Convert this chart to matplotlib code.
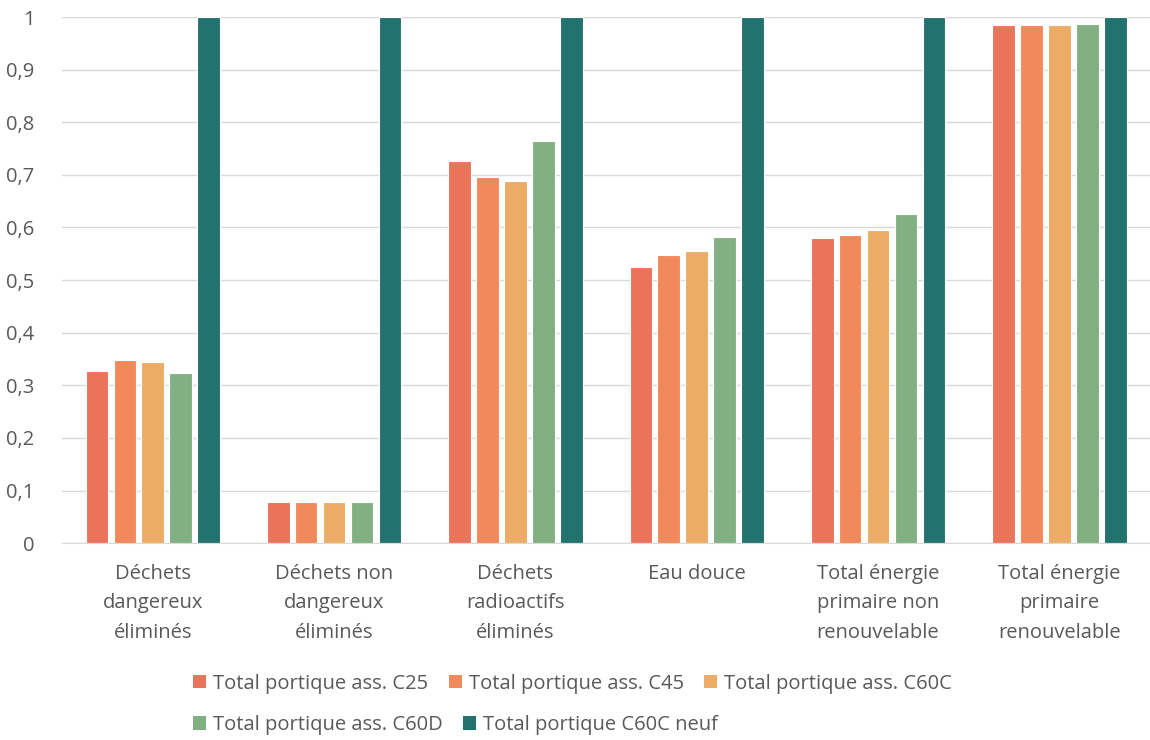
import matplotlib.pyplot as plt
import numpy as np
from matplotlib.patches import Patch

plt.rcParams['font.family'] = ['Open Sans', 'DejaVu Sans']

categories = ['Déchets\ndangereux\néliminés', 'Déchets non\ndangereux\néliminés',
              'Déchets\nradioactifs\néliminés', 'Eau douce',
              'Total énergie\nprimaire non\nrenouvelable', 'Total énergie\nprimaire\nrenouvelable']
series = ['Total portique ass. C25', 'Total portique ass. C45', 'Total portique ass. C60C',
          'Total portique ass. C60D', 'Total portique C60C neuf']
c25 = [0.327, 0.078, 0.726, 0.525, 0.580, 0.985]
c45 = [0.348, 0.078, 0.696, 0.548, 0.586, 0.985]
c60c = [0.344, 0.078, 0.688, 0.555, 0.595, 0.985]
c60d = [0.323, 0.078, 0.764, 0.582, 0.625, 0.987]
neuf = [1, 1, 1, 1, 1, 1]
colors = ['#EA7459', '#F1895B', '#ECAC66', '#82B083', '#227270']

fig = plt.figure(figsize=(11.5, 7.4), dpi=100)
ax = fig.add_axes([0.054, 0.266, 0.946, 0.711])

x = np.arange(len(categories))
pitch = 0.154
width = 0.125
for i, vals in enumerate([c25, c45, c60c, c60d, neuf]):
    ax.bar(x + (i - 2) * pitch, vals, width, color=colors[i], edgecolor='white',
           linewidth=0.8, zorder=3, label=series[i])

ax.set_xlim(-0.5, len(categories) - 0.5)
ax.set_ylim(0, 1)
ax.set_yticks(np.arange(0, 1.01, 0.1))
ax.set_yticklabels(['0'] + [('%.1f' % v).replace('.', ',') for v in np.arange(0.1, 0.95, 0.1)] + ['1'])
ax.set_xticks(x)
ax.set_xticklabels(categories, linespacing=1.62)
ax.tick_params(axis='both', length=0, labelsize=14.5, colors='#595959', pad=15)
ax.tick_params(axis='y', pad=20)
ax.yaxis.grid(True, color='#D9D9D9', linewidth=1, zorder=0)
for s in ['top', 'right', 'left']:
    ax.spines[s].set_visible(False)
ax.spines['bottom'].set_color('#D9D9D9')
ax.spines['bottom'].set_zorder(4)

h = [Patch(facecolor=c) for c in colors]
kw = dict(frameon=False, fontsize=14.5, handlelength=0.65, handleheight=0.65,
          handletextpad=0.35, columnspacing=1.0, labelcolor='#595959',
          borderpad=0, borderaxespad=0, loc='center left')
fig.legend(h[:3], series[:3], bbox_to_anchor=(0.168, 0.076), ncol=3, **kw)
fig.legend(h[3:], series[3:], bbox_to_anchor=(0.168, 0.02), ncol=2, **kw)

fig.savefig('out.png', dpi=100)
